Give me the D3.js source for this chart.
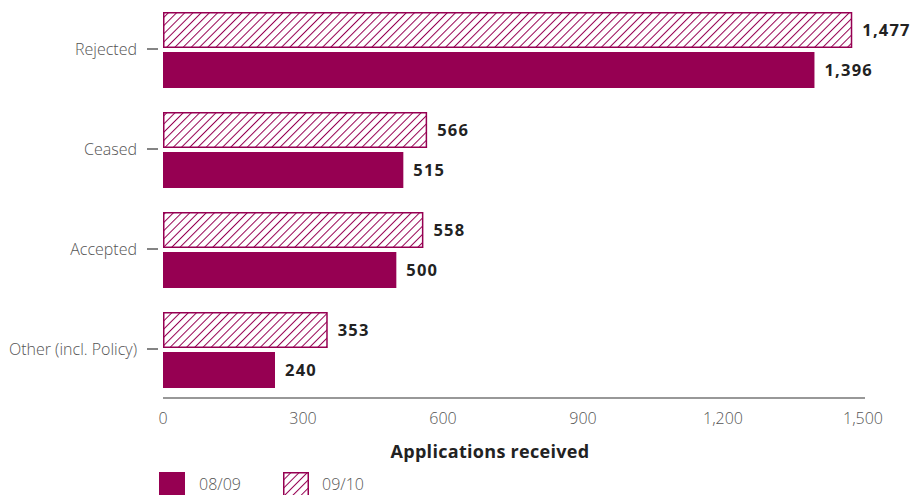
<!DOCTYPE html>
<html><head><meta charset="utf-8">
<script src="https://cdn.jsdelivr.net/npm/d3@7"></script>
<style>
body{margin:0;background:#fff;}
svg{display:block;font-family:"Open Sans",sans-serif;}
</style></head><body>
<svg id="c" width="915" height="495"></svg>
<script>
const categories = ["Rejected","Ceased","Accepted","Other (incl. Policy)"];
const series = ["09/10","08/09"];
const values0910 = [1477,566,558,353];
const values0809 = [1396,515,500,240];
const xTicks = [0,300,600,900,1200,1500];

const col = "#960052";
const svg = d3.select("#c");
const defs = svg.append("defs");
const pw = 5.8;
const pat = defs.append("pattern").attr("id","hatch").attr("patternUnits","userSpaceOnUse")
  .attr("width",pw).attr("height",pw).attr("patternTransform","rotate(45)");
pat.append("rect").attr("width",pw).attr("height",pw).attr("fill","#fff");
pat.append("line").attr("x1",0).attr("y1",0).attr("x2",0).attr("y2",pw).attr("stroke",col).attr("stroke-width",2);

const x = d3.scaleLinear().domain([0,1500]).range([163,863]);
const y = d3.scaleBand().domain(categories).range([0,400]).paddingInner(0.24).paddingOuter(0.12);
const yInner = d3.scaleBand().domain(series).range([0,y.bandwidth()]).paddingInner(0.1);

// x axis
const gx = svg.append("g").attr("transform","translate(0,398)");
gx.append("line").attr("x1",x(0)).attr("x2",x(1500)+2).attr("stroke","#333").attr("stroke-width",1.2);
gx.selectAll("text").data(xTicks).join("text")
  .attr("x",d=>x(d)).attr("y",26).attr("text-anchor","middle")
  .attr("font-size",16).attr("font-weight",300).attr("fill","#555")
  .text(d=>d3.format(",")(d));
svg.append("text").attr("x",490).attr("y",458).attr("text-anchor","middle")
  .attr("font-size",18).attr("font-weight",700).attr("fill","#222").attr("letter-spacing",0.3).text("Applications received");

// y labels
const gy = svg.append("g");
categories.forEach((c,i)=>{
  const cy = y(c)+y.bandwidth()/2 - 1;
  gy.append("line").attr("x1",147).attr("x2",158).attr("y1",cy).attr("y2",cy).attr("stroke","#333").attr("stroke-width",1.2);
  gy.append("text").attr("x",137).attr("y",cy).attr("dy","0.35em").attr("text-anchor","end")
    .attr("font-size",16).attr("font-weight",300).attr("fill","#555").text(c);
});

const data = [];
categories.forEach((c,i)=>{
  data.push({c,s:"09/10",v:values0910[i]});
  data.push({c,s:"08/09",v:values0809[i]});
});
const bars = svg.append("g");
bars.selectAll("rect").data(data).join("rect")
  .attr("x",d=>x(0)+ (d.s==="09/10"?0.75:0))
  .attr("y",d=>y(d.c)+yInner(d.s)+(d.s==="09/10"?0.75:0))
  .attr("width",d=>x(d.v)-x(0)-(d.s==="09/10"?1.5:0))
  .attr("height",d=>yInner.bandwidth()-(d.s==="09/10"?1.5:0))
  .attr("fill",d=>d.s==="09/10"?"url(#hatch)":col)
  .attr("stroke",d=>d.s==="09/10"?col:"none").attr("stroke-width",1.5);
bars.selectAll("text").data(data).join("text")
  .attr("x",d=>x(d.v)+10).attr("y",d=>y(d.c)+yInner(d.s)+yInner.bandwidth()/2)
  .attr("dy","0.35em").attr("font-size",16.5).attr("font-weight",700).attr("fill","#222")
  .attr("letter-spacing",1.2)
  .text(d=>d3.format(",")(d.v));

// legend
const lg = svg.append("g");
lg.append("rect").attr("x",159).attr("y",472).attr("width",26).attr("height",24).attr("fill",col);
lg.append("text").attr("x",199).attr("y",484).attr("dy","0.35em").attr("font-size",16).attr("font-weight",300).attr("fill","#555").text("08/09");
lg.append("rect").attr("x",283.75).attr("y",472.75).attr("width",24.5).attr("height",24).attr("fill","url(#hatch)").attr("stroke",col).attr("stroke-width",1.5);
lg.append("text").attr("x",322).attr("y",484).attr("dy","0.35em").attr("font-size",16).attr("font-weight",300).attr("fill","#555").text("09/10");
</script></body></html>
